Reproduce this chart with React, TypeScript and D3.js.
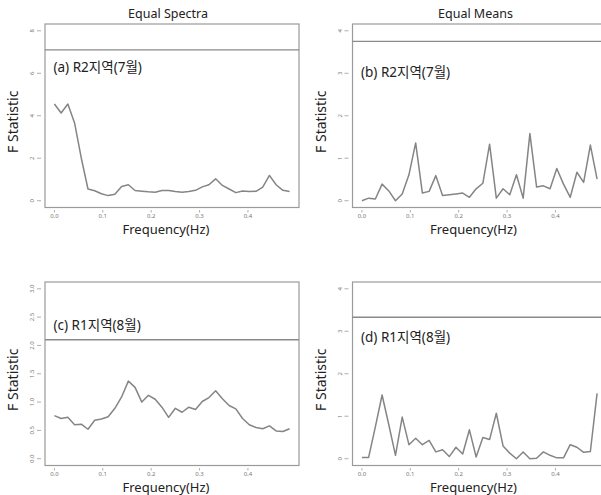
import React, { useEffect, useRef } from 'react';
import * as d3 from 'd3';

// frequencies (Hz), k/72
const FREQ = [
  0, 0.0139, 0.0278, 0.0417, 0.0556, 0.0694, 0.0833, 0.0972, 0.1111, 0.125,
  0.1389, 0.1528, 0.1667, 0.1806, 0.1944, 0.2083, 0.2222, 0.2361, 0.25, 0.2639,
  0.2778, 0.2917, 0.3056, 0.3194, 0.3333, 0.3472, 0.3611, 0.375, 0.3889, 0.4028,
  0.4167, 0.4306, 0.4444, 0.4583, 0.4722, 0.4861,
];

// (a) equal spectra, R2 july
const SPEC_R2_JUL = [
  4.55, 4.13, 4.55, 3.66, 2.0, 0.55, 0.47, 0.33, 0.24, 0.3,
  0.67, 0.75, 0.48, 0.45, 0.42, 0.4, 0.48, 0.48, 0.43, 0.4,
  0.43, 0.49, 0.65, 0.75, 1.03, 0.72, 0.55, 0.38, 0.46, 0.43,
  0.44, 0.64, 1.19, 0.75, 0.49, 0.43,
];
// (b) equal means, R2 july
const MEAN_R2_JUL = [
  0, 0.06, 0.04, 0.39, 0.23, 0, 0.16, 0.61, 1.36, 0.18,
  0.22, 0.59, 0.12, 0.14, 0.16, 0.18, 0.08, 0.28, 0.41, 1.33,
  0.06, 0.28, 0.14, 0.61, 0.06, 1.58, 0.32, 0.35, 0.28, 0.76,
  0.39, 0.08, 0.67, 0.43, 1.31, 0.51,
];
// (c) equal spectra, R1 august
const SPEC_R1_AUG = [
  0.76, 0.71, 0.73, 0.6, 0.61, 0.52, 0.68, 0.7, 0.74, 0.89,
  1.09, 1.37, 1.26, 1.0, 1.12, 1.05, 0.91, 0.73, 0.89, 0.82,
  0.91, 0.87, 1.01, 1.08, 1.2, 1.06, 0.94, 0.88, 0.71, 0.6,
  0.55, 0.53, 0.58, 0.49, 0.48, 0.53,
];
// (d) equal means, R1 august
const MEAN_R1_AUG = [
  0.03, 0.03, 0.75, 1.5, 0.8, 0.08, 0.98, 0.33, 0.48, 0.33,
  0.43, 0.16, 0.21, 0.05, 0.27, 0.11, 0.68, 0.04, 0.5, 0.45,
  1.07, 0.3, 0.13, 0, 0.16, 0, 0.01, 0.16, 0.08, 0.02,
  0.02, 0.33, 0.27, 0.15, 0.17, 1.54,
];

const X_TICKS = [0, 0.1, 0.2, 0.3, 0.4];
const Y_TICKS_SPEC_JUL = [0, 2, 4, 6, 8];
const Y_TICKS_MEANS = [0, 1, 2, 3, 4];
const Y_TICKS_SPEC_AUG = [0, 0.5, 1, 1.5, 2, 2.5, 3];
const CRIT = [7.1, 3.75, 2.1, 3.33];
const PANEL_LABELS = ['(a) R2지역(7월)', '(b) R2지역(7월)', '(c) R1지역(8월)', '(d) R1지역(8월)'];
const COL_TITLES = ['Equal Spectra', 'Equal Means'];

const FONT = "'Noto Sans', 'Noto Sans CJK KR', sans-serif";

export default function App() {
  const ref = useRef<SVGSVGElement>(null);

  useEffect(() => {
    const svg = d3.select(ref.current);
    svg.selectAll('*').remove();

    const panels = [
      { vals: SPEC_R2_JUL, ymax: 8, yticks: Y_TICKS_SPEC_JUL, fmt: d3.format('d'), left: 45, top: 24, labelY: 72 },
      { vals: MEAN_R2_JUL, ymax: 4, yticks: Y_TICKS_MEANS, fmt: d3.format('d'), left: 352.5, top: 24, labelY: 77 },
      { vals: SPEC_R1_AUG, ymax: 3, yticks: Y_TICKS_SPEC_AUG, fmt: d3.format('.1f'), left: 45, top: 282, labelY: 330 },
      { vals: MEAN_R1_AUG, ymax: 4, yticks: Y_TICKS_MEANS, fmt: d3.format('d'), left: 352.5, top: 282, labelY: 342 },
    ];
    const boxW = 254;
    const boxH = 183.5;
    const fmax = d3.max(FREQ) as number;

    panels.forEach((p, i) => {
      const x = d3
        .scaleLinear()
        .domain([-0.04 * fmax, fmax * 1.04])
        .range([p.left, p.left + boxW]);
      const y = d3
        .scaleLinear()
        .domain([-0.04 * p.ymax, p.ymax * 1.04])
        .range([p.top + boxH, p.top]);
      const bottom = p.top + boxH;

      const g = svg.append('g');

      g.append('rect')
        .attr('x', p.left)
        .attr('y', p.top)
        .attr('width', boxW)
        .attr('height', boxH)
        .style('fill', 'none')
        .style('stroke', '#9a9a9a')
        .style('stroke-width', 1.2);

      // critical value line
      g.append('line')
        .attr('x1', p.left)
        .attr('x2', p.left + boxW)
        .attr('y1', y(CRIT[i]))
        .attr('y2', y(CRIT[i]))
        .style('stroke', '#8a8a8a')
        .style('stroke-width', 1.3);

      const line = d3
        .line<number>()
        .x((d, k) => x(FREQ[k]))
        .y((d) => y(d));

      g.append('path')
        .datum(p.vals)
        .attr('d', line)
        .style('fill', 'none')
        .style('stroke', '#858585')
        .style('stroke-width', 1.5)
        .style('stroke-linejoin', 'round');

      // x ticks
      X_TICKS.forEach((t) => {
        g.append('line')
          .attr('x1', x(t))
          .attr('x2', x(t))
          .attr('y1', bottom + 2.5)
          .attr('y2', bottom + 5)
          .style('stroke', '#999')
          .style('stroke-width', 0.8);
        g.append('text')
          .attr('x', x(t))
          .attr('y', bottom + 10.5)
          .style('font-size', '6px')
          .style('font-family', FONT)
          .style('fill', '#777')
          .style('text-anchor', 'middle')
          .text(d3.format('.1f')(t));
      });

      // y ticks
      p.yticks.forEach((t) => {
        g.append('line')
          .attr('x1', p.left - 8)
          .attr('x2', p.left - 4)
          .attr('y1', y(t))
          .attr('y2', y(t))
          .style('stroke', '#999')
          .style('stroke-width', 0.8);
        g.append('text')
          .attr('transform', 'translate(' + (p.left - 11) + ',' + y(t) + ') rotate(-90)')
          .style('font-size', '6px')
          .style('font-family', FONT)
          .style('fill', '#777')
          .style('text-anchor', 'middle')
          .text(p.fmt(t));
      });

      g.append('text')
        .attr('x', p.left + boxW / 2 - 6)
        .attr('y', bottom + 26)
        .style('font-size', '13px')
        .style('font-family', FONT)
        .style('fill', '#222')
        .style('text-anchor', 'middle')
        .text('Frequency(Hz)');

      g.append('text')
        .attr('transform', 'translate(' + (p.left - 27) + ',' + (p.top + boxH / 2 + 6) + ') rotate(-90)')
        .style('font-size', '14px')
        .style('font-family', FONT)
        .style('fill', '#222')
        .style('text-anchor', 'middle')
        .text('F Statistic');

      g.append('text')
        .attr('x', p.left + 8.5)
        .attr('y', p.labelY)
        .style('font-size', '13.5px')
        .style('font-family', FONT)
        .style('fill', '#222')
        .text(PANEL_LABELS[i]);

      if (i < 2) {
        g.append('text')
          .attr('x', p.left + boxW / 2 - 4)
          .attr('y', 18)
          .style('font-size', '12.5px')
          .style('font-family', FONT)
          .style('fill', '#222')
          .style('text-anchor', 'middle')
          .text(COL_TITLES[i]);
      }
    });
  }, []);

  return (
    <svg
      ref={ref}
      width={601}
      height={495}
      style={{ position: 'absolute', left: 0, top: 0, background: '#fff' }}
    />
  );
}
